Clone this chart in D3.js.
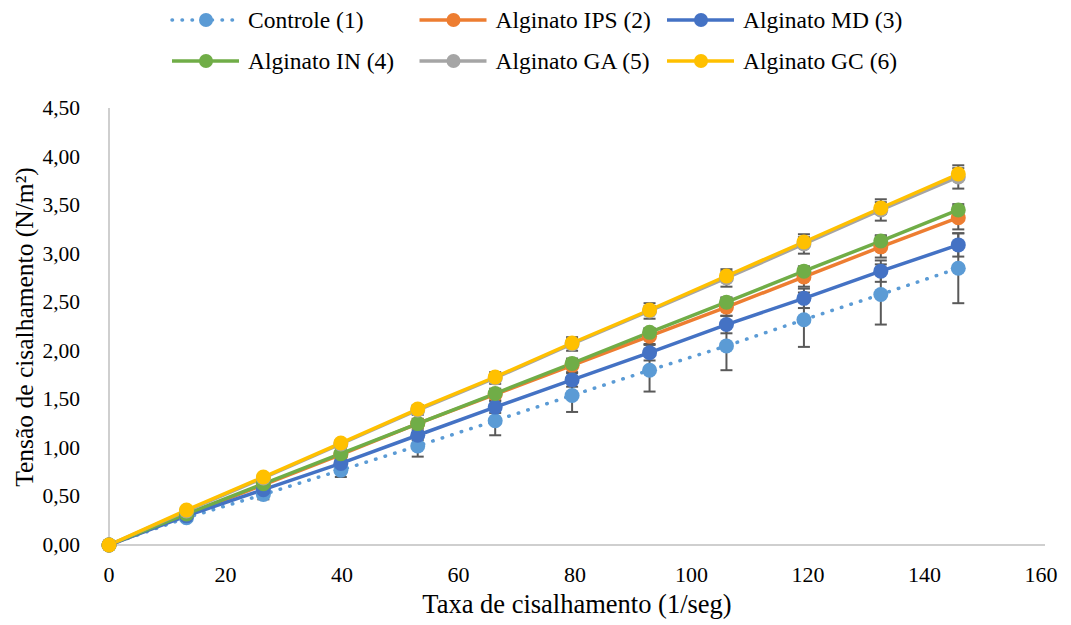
<!DOCTYPE html>
<html>
<head>
<meta charset="utf-8">
<script src="https://cdn.jsdelivr.net/npm/d3@7"></script>
<style>
  body { margin: 0; background: #fff; }
  svg text { fill: #000; }
</style>
</head>
<body>
<script>
// shear rate (1/seg)
const shearRate = [0, 13.3, 26.5, 39.8, 53, 66.3, 79.5, 92.8, 106, 119.3, 132.5, 145.8];

const seriesNames = [
  "Controle (1)", "Alginato IPS (2)", "Alginato MD (3)",
  "Alginato IN (4)", "Alginato GA (5)", "Alginato GC (6)"
];

// shear stress (N/m2) per series
const controle = [0, 0.28, 0.52, 0.77, 1.02, 1.28, 1.54, 1.80, 2.05, 2.32, 2.58, 2.85];
const alginatoIPS = [0, 0.31, 0.62, 0.93, 1.25, 1.55, 1.85, 2.15, 2.45, 2.76, 3.07, 3.37];
const alginatoMD = [0, 0.30, 0.57, 0.84, 1.13, 1.42, 1.70, 1.98, 2.27, 2.54, 2.82, 3.09];
const alginatoIN = [0, 0.32, 0.63, 0.94, 1.25, 1.56, 1.87, 2.19, 2.50, 2.82, 3.13, 3.45];
const alginatoGA = [0, 0.35, 0.69, 1.04, 1.39, 1.72, 2.07, 2.41, 2.75, 3.10, 3.45, 3.79];
const alginatoGC = [0, 0.36, 0.70, 1.05, 1.40, 1.73, 2.08, 2.42, 2.77, 3.12, 3.47, 3.82];

// standard deviations (error bars)
const controleErr = [0, 0.03, 0.05, 0.07, 0.11, 0.15, 0.17, 0.22, 0.25, 0.28, 0.31, 0.36];
const alginatoIPSErr = [0, 0.02, 0.03, 0.04, 0.05, 0.06, 0.07, 0.08, 0.09, 0.10, 0.11, 0.12];
const alginatoMDErr = [0, 0.02, 0.03, 0.04, 0.05, 0.06, 0.07, 0.08, 0.09, 0.10, 0.11, 0.12];
const alginatoINErr = [0, 0.01, 0.02, 0.02, 0.03, 0.03, 0.04, 0.04, 0.05, 0.05, 0.06, 0.06];
const alginatoGAErr = [0, 0.02, 0.03, 0.04, 0.05, 0.06, 0.07, 0.08, 0.09, 0.10, 0.11, 0.12];
const alginatoGCErr = [0, 0.01, 0.02, 0.02, 0.03, 0.03, 0.04, 0.04, 0.05, 0.05, 0.06, 0.06];

const xTicks = [0, 20, 40, 60, 80, 100, 120, 140, 160];
const yTicks = [0, 0.5, 1, 1.5, 2, 2.5, 3, 3.5, 4, 4.5];

const colors = ["#5b9bd5", "#ed7d31", "#4472c4", "#70ad47", "#a5a5a5", "#ffc000"];
const values = [controle, alginatoIPS, alginatoMD, alginatoIN, alginatoGA, alginatoGC];
const errors = [controleErr, alginatoIPSErr, alginatoMDErr, alginatoINErr, alginatoGAErr, alginatoGCErr];

const series = seriesNames.map((name, i) => ({
  name,
  color: colors[i],
  dotted: i === 0,
  points: shearRate.map((x, k) => ({ x, y: values[i][k], e: errors[i][k] })),
}));

const width = 1071, height = 625;
const serif = "Liberation Serif, Tinos, DejaVu Serif, Noto Serif, serif";

const x = d3.scaleLinear().domain([0, 160]).range([109, 1041]);
const y = d3.scaleLinear().domain([0, 4.5]).range([545, 108]);
const fmt = (d) => d3.format(".2f")(d).replace(".", ",");

const svg = d3
  .select("body")
  .append("svg")
  .attr("width", width)
  .attr("height", height)
  .attr("font-family", serif);

// axes lines
svg.append("line")
  .attr("x1", x(0)).attr("x2", x(0))
  .attr("y1", y(4.5)).attr("y2", y(0))
  .attr("stroke", "#bfbfbf").attr("stroke-width", 1.5);
svg.append("line")
  .attr("x1", x(0)).attr("x2", 1045)
  .attr("y1", y(0)).attr("y2", y(0))
  .attr("stroke", "#bfbfbf").attr("stroke-width", 1.5);

svg.append("g")
  .selectAll("text")
  .data(yTicks)
  .join("text")
  .attr("x", 80)
  .attr("y", (d) => y(d) + 7)
  .attr("text-anchor", "end")
  .attr("font-size", 21.5)
  .text(fmt);

svg.append("g")
  .selectAll("text")
  .data(xTicks)
  .join("text")
  .attr("x", (d) => x(d))
  .attr("y", 582)
  .attr("text-anchor", "middle")
  .attr("font-size", 22)
  .text((d) => d);

svg.append("text")
  .attr("x", 577)
  .attr("y", 613)
  .attr("text-anchor", "middle")
  .attr("font-size", 26.5)
  .text("Taxa de cisalhamento (1/seg)");

svg.append("text")
  .attr("transform", "translate(33,327) rotate(-90)")
  .attr("text-anchor", "middle")
  .attr("font-size", 25.5)
  .text("Tensão de cisalhamento (N/m²)");

const line = d3.line().x((d) => x(d.x)).y((d) => y(d.y));

// series lines
svg.append("g")
  .selectAll("path")
  .data(series)
  .join("path")
  .attr("d", (s) => line(s.points))
  .attr("fill", "none")
  .attr("stroke", (s) => s.color)
  .attr("stroke-width", 3.5)
  .attr("stroke-linecap", "round")
  .attr("stroke-dasharray", (s) => (s.dotted ? "0.5 9.5" : null));

// error bars
const err = svg.append("g")
  .attr("stroke", "#595959")
  .attr("stroke-width", 2)
  .selectAll("g")
  .data(series.flatMap((s) => s.points.filter((p) => p.e > 0)))
  .join("g");

err.append("line")
  .attr("x1", (d) => x(d.x)).attr("x2", (d) => x(d.x))
  .attr("y1", (d) => y(d.y - d.e)).attr("y2", (d) => y(d.y + d.e));
err.append("line")
  .attr("x1", (d) => x(d.x) - 6).attr("x2", (d) => x(d.x) + 6)
  .attr("y1", (d) => y(d.y - d.e)).attr("y2", (d) => y(d.y - d.e));
err.append("line")
  .attr("x1", (d) => x(d.x) - 6).attr("x2", (d) => x(d.x) + 6)
  .attr("y1", (d) => y(d.y + d.e)).attr("y2", (d) => y(d.y + d.e));

// markers
svg.append("g")
  .selectAll("g")
  .data(series)
  .join("g")
  .attr("fill", (s) => s.color)
  .selectAll("circle")
  .data((s) => s.points)
  .join("circle")
  .attr("cx", (d) => x(d.x))
  .attr("cy", (d) => y(d.y))
  .attr("r", 7.5);

// legend, two rows of three
const legend = svg.append("g")
  .selectAll("g")
  .data(series)
  .join("g")
  .attr("transform", (s, i) => `translate(${172 + (i % 3) * 247.5},${i < 3 ? 20 : 61})`);

legend.append("line")
  .attr("x1", 0).attr("x2", 67)
  .attr("stroke", (s) => s.color)
  .attr("stroke-width", 3.5)
  .attr("stroke-linecap", (s) => (s.dotted ? "round" : "butt"))
  .attr("stroke-dasharray", (s) => (s.dotted ? "0.5 9.5" : null));

legend.append("circle")
  .attr("cx", 34)
  .attr("r", 7)
  .attr("fill", (s) => s.color);

legend.append("text")
  .attr("x", 76)
  .attr("y", 8)
  .attr("font-size", 23.5)
  .text((s) => s.name);
</script>
</body>
</html>
